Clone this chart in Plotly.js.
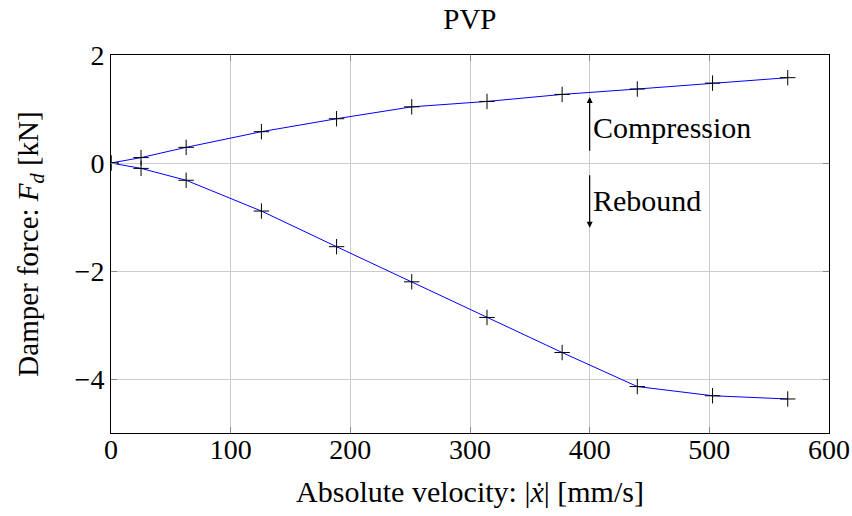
<!DOCTYPE html>
<html>
<head>
<meta charset="utf-8">
<script src="https://cdn.plot.ly/plotly-3.0.1.min.js"></script>
<style>html,body{margin:0;padding:0;background:#fff;}#chart{width:852px;height:516px;}</style>
</head>
<body>
<div id="chart"></div>
<script>
const velocity = [0, 25.1, 62.8, 125.7, 188.5, 251.3, 314.2, 377.0, 439.8, 502.7, 565.5];
const compression = [0, 0.10, 0.29, 0.58, 0.82, 1.04, 1.14, 1.27, 1.37, 1.48, 1.58];
const rebound = [0, -0.10, -0.32, -0.89, -1.55, -2.20, -2.86, -3.51, -4.14, -4.31, -4.37];
const xTicks = [0, 100, 200, 300, 400, 500, 600];
const yTicks = [-4, -2, 0, 2];

const FONT = "Liberation Serif, DejaVu Serif, serif";

function series(y) {
  return {
    x: velocity, y: y, type: 'scatter', mode: 'lines+markers',
    line: {color: '#0000ff', width: 1},
    marker: {symbol: 'cross-thin', size: 11, line: {color: '#000', width: 1}, color: '#000'},
    showlegend: false, hoverinfo: 'skip'
  };
}

const axisCommon = {
  showline: true, linecolor: '#000', linewidth: 1, mirror: 'ticks',
  ticks: 'inside', ticklen: 6, tickcolor: '#888', tickwidth: 1,
  showgrid: true, gridcolor: '#cccccc', gridwidth: 1,
  zeroline: false, automargin: false,
  tickfont: {family: FONT, size: 28, color: '#000'}
};

const layout = {
  width: 852, height: 516,
  margin: {l: 111, r: 23, t: 55, b: 83},
  paper_bgcolor: '#fff', plot_bgcolor: '#fff',
  font: {family: FONT, color: '#000'},
  title: {text: 'PVP', x: 0.5515, xref: 'container', yref: 'container', y: 0.963, yanchor: 'middle', font: {family: FONT, size: 29}},
  xaxis: Object.assign({}, axisCommon, {
    range: [0, 600], tickvals: xTicks, ticklabelstandoff: -9,
    title: {text: 'Absolute velocity: |<i>ẋ</i>| [mm/s]', font: {family: FONT, size: 30}, standoff: 17}
  }),
  yaxis: Object.assign({}, axisCommon, {
    range: [-5, 2], tickvals: yTicks,
    title: {text: 'Damper force: <i>F<sub>d</sub></i> [kN]', font: {family: FONT, size: 29}, standoff: 27}
  }),
  annotations: [
    {x: 400, y: 1.22, ax: 400, ay: 0.2, xref: 'x', yref: 'y', axref: 'x', ayref: 'y',
     showarrow: true, arrowhead: 2, arrowsize: 1, arrowwidth: 1.2, arrowcolor: '#000', text: ''},
    {x: 400, y: -1.2, ax: 400, ay: -0.2, xref: 'x', yref: 'y', axref: 'x', ayref: 'y',
     showarrow: true, arrowhead: 2, arrowsize: 1, arrowwidth: 1.2, arrowcolor: '#000', text: ''},
    {x: 401, y: 0.65, xref: 'x', yref: 'y', text: 'Compression', showarrow: false,
     xanchor: 'left', yanchor: 'middle', font: {family: FONT, size: 30, color: '#000'}},
    {x: 401, y: -0.7, xref: 'x', yref: 'y', text: 'Rebound', showarrow: false,
     xanchor: 'left', yanchor: 'middle', font: {family: FONT, size: 30, color: '#000'}}
  ]
};

Plotly.newPlot('chart', [series(compression), series(rebound)], layout, {displayModeBar: false, staticPlot: true});
</script>
</body>
</html>
